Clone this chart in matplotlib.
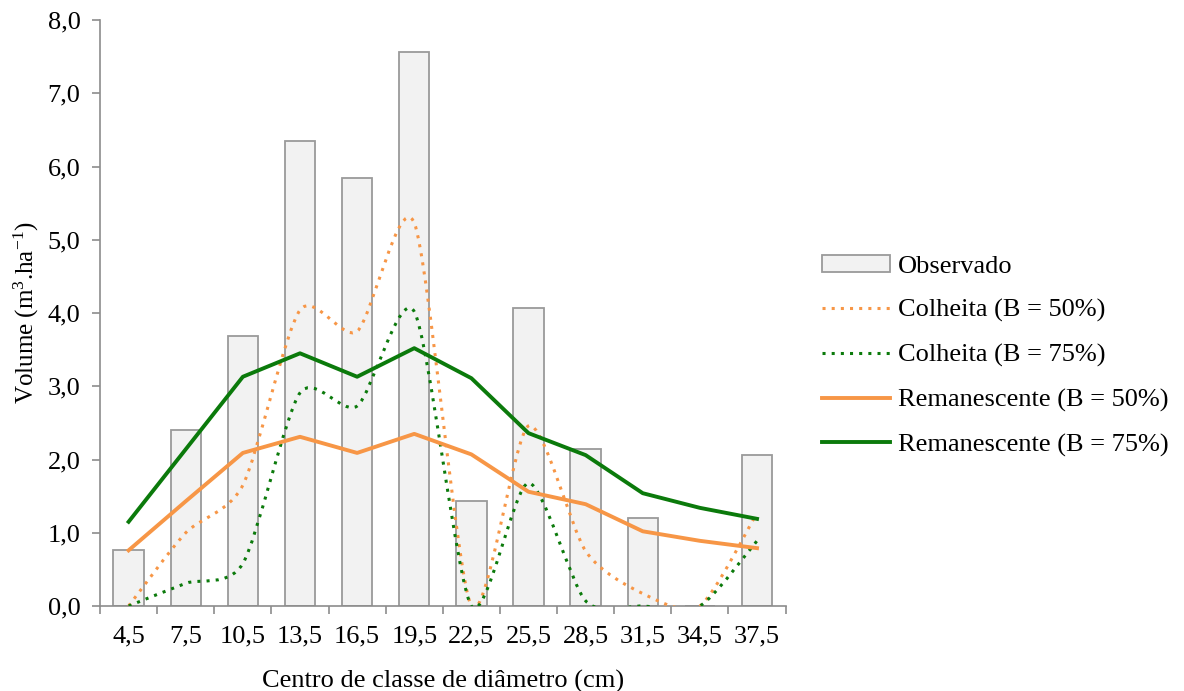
import numpy as np
import matplotlib
matplotlib.use("Agg")
import matplotlib.pyplot as plt
from matplotlib.path import Path
from matplotlib.patches import PathPatch
from matplotlib.lines import Line2D
from matplotlib.patches import Patch

plt.rcParams['font.family'] = ['Liberation Serif', 'DejaVu Serif']
plt.rcParams['mathtext.fontset'] = 'custom'
plt.rcParams['mathtext.rm'] = 'Liberation Serif'
plt.rcParams['mathtext.it'] = 'Liberation Serif:italic'

# classes de diametro
classes = ['4,5', '7,5', '10,5', '13,5', '16,5', '19,5', '22,5', '25,5',
           '28,5', '31,5', '34,5', '37,5']
observado = [0.76, 2.40, 3.69, 6.35, 5.84, 7.57, 1.44, 4.07, 2.14, 1.20, 0.0, 2.06]
colheita_50 = [0.0, 1.00, 1.65, 4.04, 3.75, 5.23, 0.0, 2.46, 0.75, 0.17, 0.0, 1.27]
colheita_75 = [0.0, 0.31, 0.58, 2.91, 2.73, 4.02, 0.0, 1.68, 0.07, 0.0, 0.0, 0.89]
reman_50 = [0.76, 1.43, 2.09, 2.31, 2.09, 2.35, 2.07, 1.56, 1.39, 1.02, 0.89, 0.79]
reman_75 = [1.15, 2.14, 3.13, 3.45, 3.13, 3.52, 3.11, 2.36, 2.06, 1.54, 1.34, 1.19]
yticks = [0, 1, 2, 3, 4, 5, 6, 7, 8]

orange = '#F79646'
green = '#0B7A0B'
fs = 19


def smooth_path(x, y, k=1 / 8.0):
    # smoothed line like the spreadsheet one: cubic bezier through the points
    pts = np.column_stack([x, y]).astype(float)
    n = len(pts)
    verts = [pts[0]]
    codes = [Path.MOVETO]
    for i in range(n - 1):
        p0 = pts[i - 1] if i > 0 else pts[i]
        p1 = pts[i]
        p2 = pts[i + 1]
        p3 = pts[i + 2] if i + 2 < n else pts[i + 1]
        c1 = p1 + (p2 - p0) * k
        c2 = p2 - (p3 - p1) * k
        verts += [c1, c2, p2]
        codes += [Path.CURVE4] * 3
    return Path(verts, codes)


fig = plt.figure(figsize=(11.84, 6.91), dpi=100)
ax = fig.add_axes([0.0845, 0.123, 0.579, 0.848])

x = np.arange(len(classes))
ax.bar(x, observado, width=0.53, color='#F2F2F2', edgecolor='#9A9A9A', linewidth=1.3, zorder=1)

for vals, col in [(colheita_50, orange), (colheita_75, green)]:
    pp = PathPatch(smooth_path(x, vals), facecolor='none', edgecolor=col,
                   linewidth=2.2, linestyle=(0, (1, 2)), zorder=3)
    ax.add_patch(pp)

ax.plot(x, reman_50, color=orange, linewidth=2.8, zorder=4)
ax.plot(x, reman_75, color=green, linewidth=2.8, zorder=4)

ax.set_xlim(-0.5, len(classes) - 0.5)
ax.set_ylim(0, 8)
ax.set_yticks(yticks)
ax.set_yticklabels([f'{v:.1f}'.replace('.', ',') for v in yticks])
ax.set_xticks(x)
ax.set_xticklabels(classes)
ax.set_xticks(np.arange(len(classes) + 1) - 0.5, minor=True)
ax.tick_params(axis='x', which='major', length=0, labelsize=fs, pad=14)
ax.tick_params(axis='x', which='minor', length=6, color='#8C8C8C', width=1.2)
ax.tick_params(axis='y', length=6, color='#8C8C8C', width=1.2, labelsize=fs, pad=8)

for s in ['top', 'right']:
    ax.spines[s].set_visible(False)
for s in ['left', 'bottom']:
    ax.spines[s].set_color('#8C8C8C')
    ax.spines[s].set_linewidth(1.2)

ax.set_xlabel('Centro de classe de diâmetro (cm)', fontsize=fs, labelpad=16)
ax.set_ylabel('Volume (m$^{3}$.ha$^{-1}$)', fontsize=18, labelpad=5)

handles = [
    Patch(facecolor='#F2F2F2', edgecolor='#9A9A9A', linewidth=1.3),
    Line2D([], [], color=orange, linewidth=2.2, linestyle=(0, (1, 2))),
    Line2D([], [], color=green, linewidth=2.2, linestyle=(0, (1, 2))),
    Line2D([], [], color=orange, linewidth=2.8),
    Line2D([], [], color=green, linewidth=2.8),
]
labels = ['Observado', 'Colheita (B = 50%)', 'Colheita (B = 75%)',
          'Remanescente (B = 50%)', 'Remanescente (B = 75%)']
fig.legend(handles, labels, loc='center left', bbox_to_anchor=(0.694, 0.485),
           frameon=False, fontsize=fs, handlelength=2.6, handleheight=0.6,
           labelspacing=0.82, handletextpad=0.3, borderpad=0, borderaxespad=0)

fig.savefig('out.png', dpi=100)
